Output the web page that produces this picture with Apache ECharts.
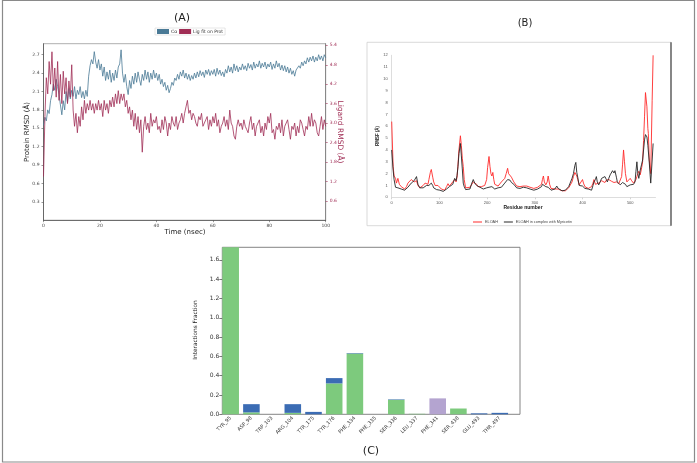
<!DOCTYPE html>
<html>
<head>
<meta charset="utf-8">
<title>RMSD / RMSF / interactions</title>
<script src="https://cdn.jsdelivr.net/npm/echarts@6.0.0/dist/echarts.min.js"></script>
<style>
html, body { margin: 0; padding: 0; background: #fff; }
#main { width: 697px; height: 463px; }
</style>
</head>
<body>
<div id="main"></div>
<script>
// (A) RMSD traces, one sample every 0.5 ns
var sampleStep = 0.5;
var proteinRmsd = [
  1.55,1.68,1.62,1.80,1.74,1.95,2.05,2.22,2.12,2.30,2.18,2.05,1.88,1.72,1.95,1.80,2.10,1.92,2.15,1.98,
  2.12,2.02,2.18,1.98,2.12,2.05,2.18,2.00,2.10,1.98,2.12,2.02,2.35,2.52,2.62,2.55,2.75,2.58,2.48,2.62,
  2.45,2.55,2.35,2.50,2.28,2.42,2.30,2.45,2.25,2.40,2.28,2.45,2.32,2.50,2.55,2.78,2.40,2.25,2.38,2.18,
  2.05,2.28,2.15,2.35,2.22,2.40,2.25,2.42,2.30,2.20,2.38,2.28,2.45,2.30,2.42,2.25,2.40,2.30,2.45,2.32,
  2.40,2.28,2.38,2.22,2.30,2.18,2.25,2.12,2.20,2.08,2.15,2.25,2.20,2.32,2.28,2.38,2.30,2.42,2.35,2.45,
  2.32,2.40,2.30,2.38,2.28,2.36,2.30,2.40,2.32,2.42,2.34,2.44,2.36,2.42,2.33,2.45,2.38,2.46,2.36,2.44,
  2.38,2.46,2.35,2.48,2.38,2.45,2.36,2.42,2.34,2.46,2.40,2.52,2.42,2.50,2.40,2.55,2.44,2.52,2.42,2.50,
  2.45,2.55,2.46,2.52,2.44,2.56,2.48,2.54,2.45,2.58,2.48,2.55,2.50,2.60,2.48,2.56,2.50,2.58,2.47,2.55,
  2.50,2.58,2.46,2.55,2.48,2.60,2.50,2.56,2.45,2.53,2.44,2.52,2.42,2.50,2.40,2.48,2.38,2.44,2.35,2.45,
  2.42,2.52,2.48,2.58,2.52,2.60,2.55,2.65,2.58,2.66,2.60,2.68,2.58,2.66,2.60,2.70,2.62,2.68,2.60,2.70,
  2.65
];
var ligandRmsd = [
  1.35,3.2,4.4,3.9,4.9,4.2,5.2,4.0,4.7,3.8,4.9,3.7,4.5,3.6,4.6,3.9,4.4,3.6,4.3,3.8,
  4.8,3.4,2.9,3.3,2.7,3.2,2.9,3.5,3.1,3.7,3.3,3.6,3.4,3.7,3.4,3.6,3.3,3.6,3.4,3.7,
  3.4,3.6,3.2,3.7,3.4,3.6,3.3,3.7,3.5,3.8,3.5,3.9,3.6,4.0,3.6,3.9,3.7,3.9,3.5,3.7,
  3.3,3.5,3.1,3.4,2.9,3.3,2.8,3.2,2.7,3.1,2.1,2.9,3.2,2.8,3.0,2.7,3.3,2.9,3.1,3.0,
  3.2,2.8,2.9,2.7,3.1,2.8,3.2,3.0,2.6,3.0,2.8,3.2,3.0,2.9,3.2,2.8,3.0,3.1,3.3,3.0,
  3.3,3.5,3.7,3.3,3.4,3.1,3.3,3.2,3.0,2.9,3.2,3.1,3.3,2.9,3.0,3.1,3.2,2.8,3.1,2.9,
  3.2,3.0,3.3,2.9,3.1,2.7,2.9,3.0,3.2,2.9,3.1,2.8,3.4,3.0,2.9,2.6,2.5,2.9,3.1,2.9,
  3.0,2.8,3.1,2.9,2.8,2.7,3.0,3.2,2.8,3.0,2.6,2.9,3.0,3.1,2.7,2.9,2.6,3.0,2.8,3.2,
  3.0,3.3,2.7,2.8,2.5,2.9,2.8,3.0,2.7,3.1,2.6,2.9,3.0,3.1,2.8,2.5,2.9,2.8,3.0,2.6,
  2.9,2.7,3.1,3.0,2.8,2.6,2.9,2.8,3.2,2.9,3.3,2.9,3.1,3.0,2.7,2.6,2.9,3.2,2.8,3.1,
  2.9
];

// (B) RMSF per residue
var residueNo = [
  0,3,5,8,10,13,16,20,24,27,31,34,38,41,44,47,50,52,55,59,62,66,70,73,76,78,81,83,86,88,
  91,94,97,101,104,108,111,115,118,121,125,128,132,135,137,139,141,144,146,148,150,152,155,159,164,168,171,174,178,181,
  185,188,192,195,199,201,204,206,208,210,212,214,216,220,223,227,230,234,237,240,243,245,248,251,253,256,259,262,265,269,
  272,276,279,283,287,290,294,298,302,306,310,314,316,318,320,323,326,328,331,334,338,342,346,349,353,357,360,364,367,371,
  374,378,381,384,386,388,390,393,396,400,402,405,409,412,416,419,422,424,427,429,431,434,437,440,444,447,450,452,455,458,
  461,463,466,468,471,473,476,479,482,484,486,488,490,493,496,500,503,507,510,512,514,516,518,521,524,526,528,530,532,535,
  537,538,540,543,546,548
];
var rmsfFree = [
  6.4,2.6,1.8,1.6,1.2,1.6,1.1,0.9,0.75,0.7,0.9,1.2,1.35,1.5,1.4,1.3,1.45,1.4,1.0,0.8,0.9,1.0,1.2,1.3,1.1,1.5,2.1,2.35,1.7,1.3,
  1.0,0.9,1.0,0.85,0.7,0.6,0.6,0.9,1.15,0.95,1.1,1.3,1.5,1.3,1.7,2.8,4.0,5.2,4.4,3.3,2.6,1.5,0.8,0.75,0.85,1.1,1.3,1.2,1.1,0.9,
  0.85,0.9,0.8,1.0,1.5,2.5,3.45,2.6,2.0,1.8,2.1,1.5,1.1,0.95,0.95,1.1,1.3,1.4,1.6,2.0,2.45,2.0,2.15,1.7,1.6,1.3,1.2,0.95,0.85,0.9,
  1.0,0.95,1.05,0.95,0.85,0.85,0.8,0.75,0.8,0.85,0.9,1.1,1.5,1.8,1.3,1.05,1.3,1.8,1.1,0.75,0.6,0.7,0.85,0.7,0.6,0.55,0.5,0.55,0.6,0.8,
  0.95,1.3,1.75,2.1,2.2,1.8,1.5,1.05,1.1,1.5,1.2,0.9,0.8,0.75,0.8,0.9,1.2,1.5,1.1,1.05,1.2,1.2,1.3,1.4,1.35,1.25,1.45,1.6,1.5,1.45,
  1.35,1.3,1.25,1.2,1.3,1.3,1.15,1.1,1.75,2.8,4.0,3.0,2.0,1.3,1.4,1.6,1.4,1.2,1.3,1.5,1.75,2.0,2.2,1.9,2.5,3.0,4.8,6.8,8.85,7.65,
  5.8,5.4,3.15,2.0,8.2,12.0
];
var rmsfComplex = [
  4.0,2.3,1.5,0.85,0.9,0.8,0.75,0.7,0.6,0.6,0.7,0.85,1.0,1.2,1.15,1.4,1.3,1.75,1.1,0.8,0.75,0.8,0.95,1.0,0.9,1.0,1.05,1.2,1.0,0.8,
  0.7,0.65,0.7,0.6,0.55,0.5,0.55,0.7,0.85,0.9,0.95,1.1,1.6,1.4,1.85,2.6,3.7,4.55,3.5,2.4,1.2,0.9,0.65,0.6,0.7,1.2,1.5,1.2,1.0,0.9,
  0.85,0.75,0.7,0.75,0.8,0.9,0.85,0.9,0.85,0.9,0.8,0.75,0.7,0.8,0.8,0.9,0.85,1.0,1.2,1.35,1.5,1.4,1.45,1.25,1.2,1.1,1.05,0.8,0.7,0.75,
  0.8,0.85,0.9,0.8,0.7,0.7,0.65,0.6,0.65,0.7,0.7,0.9,1.1,1.25,1.1,0.9,0.9,0.85,0.7,0.6,0.5,0.7,0.95,0.75,0.6,0.55,0.5,0.6,0.7,0.9,
  1.2,1.6,2.0,2.7,2.95,2.1,1.7,1.0,0.95,0.95,0.9,0.75,0.7,0.7,0.65,0.6,1.0,1.3,1.5,1.75,1.3,1.05,1.3,1.6,1.5,1.75,1.5,1.3,1.6,1.9,
  2.0,2.25,2.05,2.25,1.7,1.3,1.15,1.05,1.2,1.25,1.25,1.2,1.1,0.9,1.0,1.05,1.1,1.1,1.3,2.2,3.0,2.0,1.6,2.3,2.8,3.15,4.0,4.85,5.3,5.1,
  4.4,4.3,2.9,1.2,3.15,4.55
];

// (C) protein-ligand contacts
var contactResidues = ['TYR_95','ASP_98','TRP_103','ARG_104','TYR_175','TYR_176','PHE_334','PHE_335','SER_336','LEU_337','PHE_341','SER_438','GLU_493','THR_497'];
var hbondFrac   = [1.73,0.02,0,0.015,0,0.32,0.63,0,0.15,0.005,0,0.06,0,0];
var hydrophFrac = [0,0,0,0,0,0,0,0,0,0,0.165,0,0,0];
var waterFrac   = [0,0.085,0,0.09,0.025,0.055,0.005,0,0.005,0,0,0,0.01,0.015];

var myChart = echarts.init(document.getElementById('main'));

var mpl = 'DejaVu Sans';
var xls = 'Liberation Sans';
var blue = '#4a7a96';
var crimson = '#a02d55';

function pairs(xs, ys) {
    var res = [];
    for (var i = 0; i < ys.length; i++) {
        res.push([xs[i], ys[i]]);
    }
    return res;
}
var timeNs = proteinRmsd.map(function (v, i) { return i * sampleStep; });
var oneDec = function (v) { return v.toFixed(1); };

var option = {
    backgroundColor: '#fff',
    animation: false,
    legend: [{
        data: ['Cα', 'Lig fit on Prot'],
        left: 155, top: 28,
        icon: 'rect', itemWidth: 12, itemHeight: 5, itemGap: 2,
        padding: [1, 2], borderColor: '#ccc', borderWidth: 0.5,
        textStyle: { fontSize: 4.5, color: '#333', fontFamily: mpl, padding: [0, 0, 0, -3] }
    }, {
        data: ['ELOAH', 'ELOAH in complex with Myricetin'],
        left: 468, top: 215,
        icon: 'rect', itemWidth: 9, itemHeight: 1, itemGap: 6,
        textStyle: { fontSize: 3.8, color: '#444', fontFamily: xls, padding: [0, 0, 0, -2] }
    }],
    grid: [
        { left: 43.5, top: 43.7, width: 282.2, height: 176.5, show: true, borderColor: '#999', borderWidth: 0.8 },
        { left: 391.7, top: 55.3, width: 263.8, height: 142 },
        { left: 220.35, top: 247.3, width: 289.8, height: 167 }
    ],
    xAxis: [{
        gridIndex: 0, type: 'value', min: 0, max: 100, interval: 20,
        axisLine: { lineStyle: { color: '#555', width: 0.8 } },
        axisTick: { length: 2, lineStyle: { color: '#555', width: 0.6 } },
        axisLabel: { fontSize: 4.5, color: '#444', margin: 3, fontFamily: mpl },
        splitLine: { show: false }
    }, {
        gridIndex: 1, type: 'value', min: 0, max: 553, interval: 100,
        axisLine: { lineStyle: { color: '#d4d4d4', width: 0.8 } },
        axisTick: { show: true, length: 2, lineStyle: { color: '#d4d4d4' } },
        axisLabel: { fontSize: 4, color: '#555', margin: 4, fontFamily: xls, showMaxLabel: false },
        splitLine: { show: false }
    }, {
        gridIndex: 2, type: 'category', data: contactResidues,
        axisLine: { show: false },
        axisTick: { alignWithLabel: true, length: 3, lineStyle: { color: '#444', width: 0.7 } },
        axisLabel: { rotate: 45, fontSize: 5, color: '#333', margin: 3, interval: 0, fontFamily: mpl }
    }],
    yAxis: [{
        gridIndex: 0, type: 'value', min: 0, max: 2.88, interval: 0.3, position: 'left',
        axisLine: { show: true, lineStyle: { color: '#555', width: 0.8 } },
        axisTick: { show: true, length: 2, lineStyle: { color: '#555', width: 0.6 } },
        axisLabel: { fontSize: 4.5, color: '#444', margin: 4, fontFamily: mpl, showMinLabel: false, showMaxLabel: false, formatter: oneDec },
        splitLine: { show: false }
    }, {
        gridIndex: 0, type: 'value', min: 0, max: 5.45, interval: 0.6, position: 'right',
        axisLine: { show: true, lineStyle: { color: '#888', width: 1 } },
        axisTick: { show: true, length: 2, lineStyle: { color: crimson, width: 0.6 } },
        axisLabel: { fontSize: 4.5, color: crimson, margin: 4, fontFamily: mpl, showMinLabel: false, showMaxLabel: false, formatter: oneDec },
        splitLine: { show: false }
    }, {
        gridIndex: 1, type: 'value', min: 0, max: 12, interval: 1,
        axisLine: { show: true, lineStyle: { color: '#d4d4d4', width: 0.8 } },
        axisTick: { show: false },
        axisLabel: { fontSize: 4, color: '#555', margin: 4, fontFamily: xls },
        splitLine: { show: false }
    }, {
        gridIndex: 2, type: 'value', min: 0, max: 1.73, interval: 0.2, offset: -1.95,
        axisLine: { show: false },
        axisTick: { show: true, length: 3, lineStyle: { color: '#444', width: 0.7 } },
        axisLabel: { fontSize: 6, color: '#333', margin: 3, fontFamily: mpl, showMaxLabel: false, formatter: oneDec },
        splitLine: { show: false }
    }],
    series: [{
        name: 'Cα', type: 'line', xAxisIndex: 0, yAxisIndex: 0,
        showSymbol: false, lineStyle: { color: blue, width: 0.8 }, itemStyle: { color: blue },
        data: pairs(timeNs, proteinRmsd)
    }, {
        name: 'Lig fit on Prot', type: 'line', xAxisIndex: 0, yAxisIndex: 1,
        showSymbol: false, lineStyle: { color: crimson, width: 0.8 }, itemStyle: { color: crimson },
        data: pairs(timeNs, ligandRmsd)
    }, {
        name: 'ELOAH', type: 'line', xAxisIndex: 1, yAxisIndex: 2,
        showSymbol: false, lineStyle: { color: '#ff2a2a', width: 0.9 }, itemStyle: { color: '#ff2a2a' },
        data: pairs(residueNo, rmsfFree)
    }, {
        name: 'ELOAH in complex with Myricetin', type: 'line', xAxisIndex: 1, yAxisIndex: 2,
        showSymbol: false, lineStyle: { color: '#262626', width: 0.9 }, itemStyle: { color: '#262626' },
        data: pairs(residueNo, rmsfComplex)
    }, {
        name: 'H-bonds', type: 'bar', xAxisIndex: 2, yAxisIndex: 3, stack: 'ix', barWidth: '80%',
        itemStyle: { color: '#7dca7d' }, data: hbondFrac
    }, {
        name: 'Hydrophobic', type: 'bar', xAxisIndex: 2, yAxisIndex: 3, stack: 'ix', barWidth: '80%',
        itemStyle: { color: '#b4a4d0' }, data: hydrophFrac
    }, {
        name: 'Water bridges', type: 'bar', xAxisIndex: 2, yAxisIndex: 3, stack: 'ix', barWidth: '80%',
        itemStyle: { color: '#3b6cb4' }, data: waterFrac
    }],
    graphic: [
        // outer frame of the figure
        { type: 'rect', shape: { x: 2.5, y: 0.5, width: 692, height: 461.5 }, style: { fill: 'none', stroke: '#8a8a8a', lineWidth: 1.2 }, silent: true },
        // panel A texts
        { type: 'text', x: 182, y: 18, style: { text: '(A)', font: '11px "DejaVu Sans"', fill: '#222', align: 'center', verticalAlign: 'middle' } },
        { type: 'text', x: 27, y: 132, rotation: Math.PI / 2, style: { text: 'Protein RMSD (Å)', font: '7px "DejaVu Sans"', fill: '#222', align: 'center', verticalAlign: 'middle' } },
        { type: 'text', x: 340, y: 132, rotation: -Math.PI / 2, style: { text: 'Ligand RMSD (Å)', font: '7.5px "DejaVu Sans"', fill: crimson, align: 'center', verticalAlign: 'middle' } },
        { type: 'text', x: 185, y: 232.5, style: { text: 'Time (nsec)', font: '7px "DejaVu Sans"', fill: '#222', align: 'center', verticalAlign: 'middle' } },
        // panel B frame and texts
        { type: 'rect', shape: { x: 367, y: 42.3, width: 304, height: 183.4 }, style: { fill: 'none', stroke: '#cfcfcf', lineWidth: 0.8 }, silent: true },
        { type: 'line', shape: { x1: 671, y1: 42.3, x2: 671, y2: 225.7 }, style: { stroke: '#444', lineWidth: 1.2 }, silent: true },
        { type: 'text', x: 525, y: 23, style: { text: '(B)', font: '10px "DejaVu Sans"', fill: '#222', align: 'center', verticalAlign: 'middle' } },
        { type: 'text', x: 378, y: 136, rotation: Math.PI / 2, style: { text: 'RMSF (Å)', font: 'bold 4.5px "Liberation Sans"', fill: '#222', align: 'center', verticalAlign: 'middle' } },
        { type: 'text', x: 523, y: 208, style: { text: 'Residue number', font: 'bold 5px "Liberation Sans"', fill: '#222', align: 'center', verticalAlign: 'middle' } },
        // panel C frame and texts
        { type: 'rect', shape: { x: 222.3, y: 247.3, width: 297.7, height: 167 }, style: { fill: 'none', stroke: '#777', lineWidth: 0.9 }, silent: true },
        { type: 'text', x: 195, y: 330, rotation: Math.PI / 2, style: { text: 'Interactions Fraction', font: '5.8px "DejaVu Sans"', fill: '#222', align: 'center', verticalAlign: 'middle' } },
        { type: 'text', x: 371, y: 451, style: { text: '(C)', font: '11px "DejaVu Sans"', fill: '#222', align: 'center', verticalAlign: 'middle' } }
    ]
};

myChart.setOption(option);
</script>
</body>
</html>
